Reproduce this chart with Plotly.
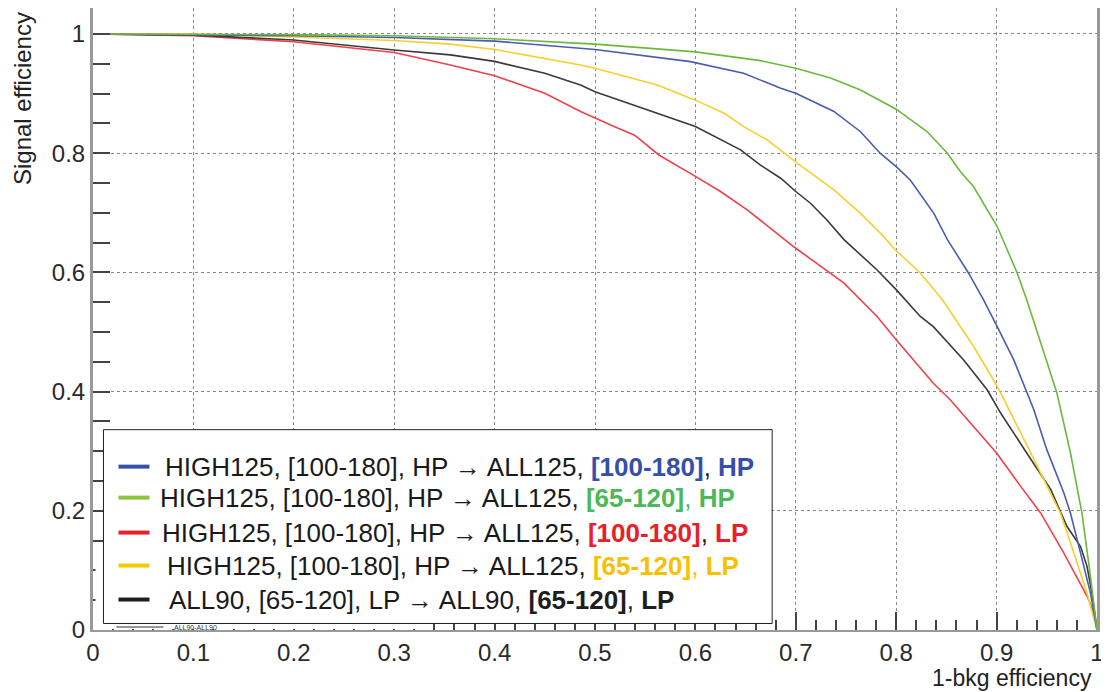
import plotly.graph_objects as go

# ---------------- data ----------------
blue_x = [0, 0.1, 0.2, 0.3, 0.356, 0.4, 0.5, 0.595, 0.648, 0.685, 0.7, 0.738, 0.7645, 0.784, 0.8, 0.814, 0.8375, 0.851, 0.872, 0.887, 0.9006, 0.917, 0.937, 0.950, 0.967, 0.9736, 0.9836, 0.9935, 1.0]
blue_y = [1.0, 0.999, 0.997, 0.994, 0.990, 0.988, 0.974, 0.9536, 0.934, 0.909, 0.9006, 0.870, 0.836, 0.800, 0.7775, 0.755, 0.699, 0.655, 0.599, 0.554, 0.509, 0.4535, 0.370, 0.3026, 0.230, 0.196, 0.129, 0.062, 0.0]

green_x = [0, 0.1, 0.2, 0.3, 0.356, 0.4, 0.5, 0.6, 0.6648, 0.7, 0.7346, 0.7645, 0.8, 0.8307, 0.851, 0.864, 0.877, 0.9006, 0.9205, 0.930, 0.944, 0.960, 0.9736, 0.985, 0.9935, 1.0]
green_y = [1.0, 1.0, 0.999, 0.997, 0.994, 0.992, 0.983, 0.970, 0.9553, 0.9426, 0.926, 0.906, 0.8738, 0.8363, 0.800, 0.769, 0.744, 0.677, 0.599, 0.554, 0.4815, 0.398, 0.297, 0.196, 0.090, 0.0]

red_x = [0, 0.1, 0.2, 0.3, 0.356, 0.4, 0.45, 0.4856, 0.519, 0.539, 0.5453, 0.5636, 0.6, 0.625, 0.6516, 0.698, 0.748, 0.7645, 0.781, 0.8, 0.837, 0.854, 0.877, 0.9, 0.924, 0.944, 0.967, 0.990, 0.997, 1.0]
red_y = [1.0, 0.997, 0.987, 0.969, 0.948, 0.930, 0.9006, 0.8698, 0.8446, 0.8307, 0.8223, 0.797, 0.761, 0.7357, 0.705, 0.643, 0.582, 0.554, 0.526, 0.487, 0.414, 0.386, 0.342, 0.297, 0.241, 0.196, 0.129, 0.057, 0.029, 0.0]

yellow_x = [0, 0.1, 0.2, 0.3, 0.356, 0.4, 0.4856, 0.5, 0.562, 0.6, 0.6287, 0.648, 0.6716, 0.7, 0.738, 0.7645, 0.7876, 0.799, 0.824, 0.846, 0.877, 0.9006, 0.924, 0.950, 0.9636, 0.977, 0.990, 1.0]
yellow_y = [1.0, 1.0, 0.995, 0.989, 0.983, 0.974, 0.948, 0.9426, 0.9145, 0.889, 0.867, 0.8446, 0.8223, 0.785, 0.7385, 0.699, 0.660, 0.638, 0.599, 0.554, 0.476, 0.409, 0.331, 0.241, 0.196, 0.129, 0.062, 0.0]

black_x = [0, 0.1, 0.2, 0.3, 0.356, 0.4, 0.45, 0.4856, 0.5, 0.552, 0.6, 0.645, 0.6648, 0.685, 0.7, 0.7146, 0.731, 0.748, 0.781, 0.8, 0.824, 0.837, 0.867, 0.8906, 0.904, 0.930, 0.954, 0.970, 0.9836, 0.990, 0.995, 1.0]
black_y = [1.0, 0.998, 0.990, 0.973, 0.965, 0.954, 0.934, 0.9145, 0.903, 0.8726, 0.8446, 0.8055, 0.780, 0.758, 0.7357, 0.716, 0.688, 0.655, 0.604, 0.571, 0.526, 0.509, 0.4535, 0.403, 0.364, 0.297, 0.2355, 0.174, 0.140, 0.107, 0.062, 0.0]

x_ticks = [0, 0.1, 0.2, 0.3, 0.4, 0.5, 0.6, 0.7, 0.8, 0.9, 1]
x_tick_labels = ["0", "0.1", "0.2", "0.3", "0.4", "0.5", "0.6", "0.7", "0.8", "0.9", "1"]
y_ticks = [0, 0.2, 0.4, 0.6, 0.8, 1]
y_tick_labels = ["0", "0.2", "0.4", "0.6", "0.8", "1"]

legend_prefix = [
    "HIGH125, [100-180], HP \u2192 ALL125, ",
    "HIGH125, [100-180], HP \u2192 ALL125, ",
    "HIGH125, [100-180], HP \u2192 ALL125, ",
    "HIGH125, [100-180], HP \u2192 ALL125, ",
    "ALL90, [65-120], LP \u2192 ALL90, ",
]
legend_range = ["[100-180]", "[65-120]", "[100-180]", "[65-120]", "[65-120]"]
legend_quality = ["HP", "HP", "LP", "LP", "LP"]

# ---------------- styles ----------------
FONT = "Liberation Sans, Arial, sans-serif"
line_colors = ["#4a5cb0", "#6cb83c", "#f0404c", "#f8cf2c", "#3a3a3a"]
marker_colors = ["#3450a8", "#8cc43c", "#e8202a", "#f8c800", "#1e1e1e"]
text_colors = ["#3450a8", "#4cb858", "#e8202a", "#f8c000", "#1e1e1e"]
comma_colored = [False, True, False, True, True]

series = [(blue_x, blue_y), (green_x, green_y), (red_x, red_y), (yellow_x, yellow_y), (black_x, black_y)]
order = [2, 4, 3, 0, 1]

fig = go.Figure()
for i in order:
    xs, ys = series[i]
    fig.add_trace(go.Scatter(x=xs, y=ys, mode="lines", line=dict(color=line_colors[i], width=1.6),
                             showlegend=False, hoverinfo="skip"))

# page offset of the figure (default body margin)
OFF = 8
W, H = 1109 - OFF, 692 - OFF
# plot area in page pixels: x 0..1 -> 92.5..1097 ; y 0 -> 630.5, y 1 -> 34
PX0, PX1 = 92.5, 1097.0
PY0, PY1 = 630.5, 34.0
L = PX0 - OFF
R = W - (PX1 - OFF)
T = 0
B = H - (PY0 - OFF)
YMAX = (PY0 - OFF) / (PY0 - PY1)


def px2x(px):
    return (px - PX0) / (PX1 - PX0)


def py2y(py):
    return (PY0 - py) / (PY0 - PY1)


def ppx(px):  # page px -> paper x
    return (px - PX0) / (PX1 - PX0)


def ppy(py):  # page py -> paper y
    return (PY0 - py) / (PY0 - PY1) / YMAX


shapes = []
annotations = []

# white patch of the underlying ROOT legend (hides ticks near the origin)
shapes.append(dict(type="rect", xref="x", yref="y", x0=px2x(95), x1=px2x(425), y0=py2y(629.5), y1=py2y(560),
                   line=dict(width=0), fillcolor="white", layer="above"))
# legend box
shapes.append(dict(type="rect", xref="x", yref="y", x0=px2x(103), x1=px2x(772), y0=py2y(624), y1=py2y(430),
                   line=dict(color="#222", width=1), fillcolor="white", layer="above"))
# underlying tiny ROOT legend remnant
shapes.append(dict(type="line", xref="x", yref="y", x0=px2x(116), x1=px2x(163), y0=py2y(627.5), y1=py2y(627.5),
                   line=dict(color="#333", width=1), layer="above"))
annotations.append(dict(xref="x", yref="y", x=px2x(172), y=py2y(627.5), text="ALL90-ALL90", showarrow=False,
                        xanchor="left", yanchor="middle", font=dict(family=FONT, size=7, color="#333")))

rows_y = [467, 498, 533, 566, 600]
text_x = [163, 158, 160, 165, 167]
for k in range(5):
    y = py2y(rows_y[k])
    shapes.append(dict(type="line", xref="x", yref="y", x0=px2x(118), x1=px2x(149), y0=y, y1=y,
                       line=dict(color=marker_colors[k], width=4), layer="above"))
    c = text_colors[k]
    if comma_colored[k]:
        tail = f"<span style='color:{c}'><b>{legend_range[k]}</b>, <b>{legend_quality[k]}</b></span>"
    else:
        tail = f"<span style='color:{c}'><b>{legend_range[k]}</b></span>, <span style='color:{c}'><b>{legend_quality[k]}</b></span>"
    annotations.append(dict(xref="x", yref="y", x=px2x(text_x[k]), y=y, text=legend_prefix[k] + tail,
                            showarrow=False, xanchor="left", yanchor="middle",
                            font=dict(family=FONT, size=26, color="#1a1a1a")))

# axis titles
annotations.append(dict(xref="paper", yref="paper", x=ppx(22), y=ppy(10),
                        text="Signal efficiency", textangle=-90, showarrow=False, xanchor="center",
                        yanchor="top", font=dict(family=FONT, size=24, color="#222")))
annotations.append(dict(xref="paper", yref="paper", x=ppx(1094), y=ppy(679),
                        text="1-bkg efficiency", showarrow=False, xanchor="right", yanchor="middle",
                        font=dict(family=FONT, size=23, color="#222")))

fig.update_layout(
    width=W, height=H,
    margin=dict(l=L, r=R, t=T, b=B, pad=0, autoexpand=False),
    paper_bgcolor="white", plot_bgcolor="white",
    shapes=shapes, annotations=annotations,
    font=dict(family=FONT, size=24, color="#222"),
)
fig.update_xaxes(range=[0, 1.0], tickvals=x_ticks, ticktext=x_tick_labels, ticks="inside", ticklen=18,
                 tickwidth=1.5, tickcolor="#444", showline=True, linecolor="#999", linewidth=2, mirror=True,
                 showgrid=True, gridcolor="#888", griddash="dot", gridwidth=1, zeroline=False, automargin=False,
                 tickfont=dict(family=FONT, size=24, color="#2a2a2a"),
                 minor=dict(dtick=0.02, tick0=0, ticks="inside", ticklen=10, tickcolor="#444", showgrid=False))
fig.update_yaxes(range=[0, YMAX], tickvals=y_ticks, ticktext=y_tick_labels, ticks="inside", ticklen=17,
                 tickwidth=1.5, tickcolor="#444", showline=True, linecolor="#999", linewidth=3, mirror=True,
                 showgrid=True, gridcolor="#888", griddash="dot", gridwidth=1, zeroline=False, automargin=False,
                 tickfont=dict(family=FONT, size=24, color="#2a2a2a"),
                 minor=dict(dtick=0.05, tick0=0, ticks="inside", ticklen=17, tickcolor="#444", showgrid=False))

fig.write_html("out.html")
